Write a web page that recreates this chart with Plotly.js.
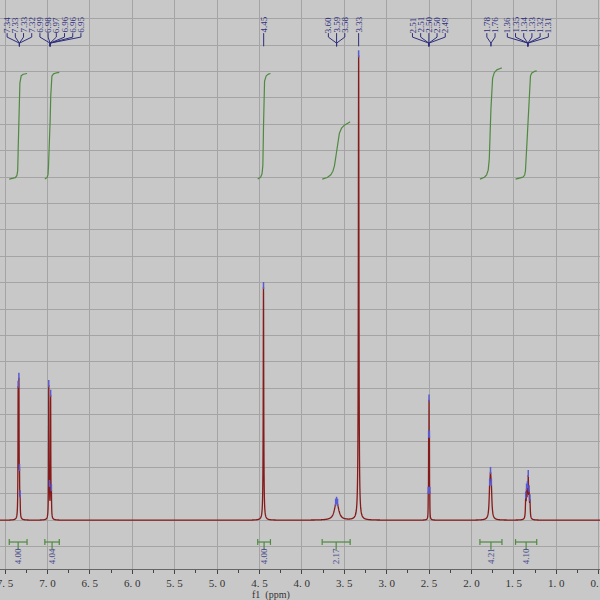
<!DOCTYPE html>
<html><head><meta charset="utf-8">
<script src="https://cdn.plot.ly/plotly-3.0.1.min.js"></script>
<style>html,body{margin:0;padding:0;background:#c8c8c8}#chart{width:600px;height:600px}</style>
</head><body><div id="chart"></div>
<script>
// ---- spectrum peak list ----
const peakShift  = [7.345, 7.336, 7.329, 7.322, 6.984, 6.975, 6.962, 6.953, 4.452, 3.601, 3.590, 3.579, 3.330, 2.509, 2.5045, 2.500, 2.4955, 2.491, 1.785, 1.775, 1.765, 1.360, 1.350, 1.340, 1.330, 1.320, 1.310];
const peakHeight = [4.7, 4.9, 1.2, 0.6, 5.0, 0.8, 4.6, 0.8, 8.83, 0.25, 0.28, 0.24, 17.6, 0.66, 2.65, 4.0, 2.65, 0.66, 0.8, 1.2, 0.8, 0.7, 0.9, 0.9, 1.4, 0.8, 0.6];
const peakWidth  = [0.0025, 0.0025, 0.0025, 0.0025, 0.0025, 0.0025, 0.0025, 0.0025, 0.0035, 0.025, 0.025, 0.025, 0.004, 0.0015, 0.0015, 0.0015, 0.0015, 0.0015, 0.008, 0.008, 0.008, 0.004, 0.004, 0.004, 0.004, 0.004, 0.004];

// ---- picked peak labels (groups) ----
const labelGroups = [
  [7.34, 7.33, 7.33, 7.32],
  [6.99, 6.98, 6.97, 6.96, 6.96, 6.95],
  [4.45],
  [3.60, 3.59, 3.58],
  [3.33],
  [2.51, 2.51, 2.50, 2.50, 2.49],
  [1.78, 1.76],
  [1.36, 1.35, 1.34, 1.33, 1.32, 1.31]
];

// ---- integrals ----
const intFrom  = [7.45, 7.03, 4.52, 3.76, 1.90, 1.48];
const intTo    = [7.24, 6.86, 4.37, 3.43, 1.64, 1.23];
const intValue = [4.00, 4.04, 4.00, 2.17, 4.21, 4.10];

// ---- axis ticks ----
const tickVals = [7.5, 7.0, 6.5, 6.0, 5.5, 5.0, 4.5, 4.0, 3.5, 3.0, 2.5, 2.0, 1.5, 1.0, 0.5];
const tickText = ['7. 5','7. 0','6. 5','6. 0','5. 5','5. 0','4. 5','4. 0','3. 5','3. 0','2. 5','2. 0','1. 5','1. 0','0. 5'];
const minorVals = [7.25, 6.75, 6.25, 5.75, 5.25, 4.75, 4.25, 3.75, 3.25, 2.75, 2.25, 1.75, 1.25, 0.75];

// ---- layout constants ----
const X0 = 7.559, X1 = 0.484;
const PXPPM = 600 / (X0 - X1);
const serif = '"Liberation Serif","DejaVu Serif",serif';
const navy = '#2e2e7e';
const green = '#4f8a40';

function spec(x) {
  let y = 0;
  for (let i = 0; i < peakShift.length; i++) {
    const d = (x - peakShift[i]) / peakWidth[i];
    y += peakHeight[i] / (1 + d * d);
  }
  return y;
}

const step = 0.0005;
const N = Math.floor((X0 - X1) / step);
const xs = [], ys = [];
for (let k = 0; k <= N; k++) { const x = X0 - k * step; xs.push(x); ys.push(spec(x)); }

const traces = [];
traces.push({x: xs, y: ys, type: 'scatter', mode: 'lines', line: {color: '#841a1a', width: 1.3, simplify: false}, hoverinfo: 'skip'});

// integral curves
const intBase = 12.92;
for (let r = 0; r < intFrom.length; r++) {
  const ix = [], iy = [];
  let s = 0;
  const cum = [];
  for (let k = 0; k <= N; k++) {
    if (xs[k] <= intFrom[r] && xs[k] >= intTo[r]) { s += ys[k] * step; ix.push(xs[k]); cum.push(s); }
  }
  for (let j = 0; j < cum.length; j++) iy.push(intBase + cum[j] / s * intValue[r]);
  traces.push({x: ix, y: iy, type: 'scatter', mode: 'lines', line: {color: green, width: 1.2}, hoverinfo: 'skip'});
}

// integral bars at bottom
const barY = -0.826, capH = 0.11, tickEnd = -1.12;
const bx = [], by = [];
for (let r = 0; r < intFrom.length; r++) {
  const mid = (intFrom[r] + intTo[r]) / 2;
  bx.push(intFrom[r], intTo[r], null, intFrom[r], intFrom[r], null, intTo[r], intTo[r], null, mid, mid, null);
  by.push(barY, barY, null, barY - capH, barY + capH, null, barY - capH, barY + capH, null, barY, tickEnd, null);
}
traces.push({x: bx, y: by, type: 'scatter', mode: 'lines', line: {color: green, width: 1.2}, hoverinfo: 'skip'});

// peak label layout
const spacing = 8.2 / PXPPM;
const leftLimit = X0 - 4 / PXPPM;
const annotations = [];
const lx = [], ly = [];
let prev = Infinity;
const yText = 18.76, yA = 18.45, yB = 18.3, yC = 18.07, yD = 17.95;
labelGroups.forEach(g => {
  const center = g.reduce((a, b) => a + b, 0) / g.length;
  let start = center + (g.length - 1) / 2 * spacing;
  if (start > leftLimit) start = leftLimit;
  if (start > prev - spacing) start = prev - spacing;
  g.forEach((v, j) => {
    const pos = start - j * spacing;
    prev = pos;
    annotations.push({x: pos, y: yText, xref: 'x', yref: 'y', text: v.toFixed(2), showarrow: false, textangle: -90,
      font: {family: serif, size: 9, color: navy}, xanchor: 'center', yanchor: 'middle'});
    if (g.length === 1) { lx.push(pos, pos, null); ly.push(yA, yD, null); }
    else { lx.push(pos, pos, center, center, null); ly.push(yA, yB, yC, yD, null); }
  });
});
traces.push({x: lx, y: ly, type: 'scatter', mode: 'lines', line: {color: navy, width: 1}, hoverinfo: 'skip'});

// peak top markers
traces.push({x: peakShift, y: peakShift.map(p => spec(p) + 0.06), type: 'scatter', mode: 'markers',
  marker: {symbol: 'line-ns-open', size: 5, color: '#5a5ad2', line: {color: '#5a5ad2', width: 1.5}}, hoverinfo: 'skip'});

// integral values
for (let r = 0; r < intFrom.length; r++) {
  annotations.push({x: (intFrom[r] + intTo[r]) / 2, y: -1.36, xref: 'x', yref: 'y', text: intValue[r].toFixed(2), showarrow: false,
    textangle: -90, font: {family: serif, size: 9, color: '#4a4a8e'}, xanchor: 'center', yanchor: 'middle'});
}
annotations.push({x: 271 / 600, y: -(595 - 569) / 569, xref: 'paper', yref: 'paper', text: 'f1  (ppm)', showarrow: false,
  font: {family: serif, size: 10, color: '#333'}, xanchor: 'center', yanchor: 'middle'});

const layout = {
  width: 600, height: 600,
  margin: {l: 0, r: 0, t: 0, b: 31, pad: 0},
  paper_bgcolor: '#c8c8c8', plot_bgcolor: '#c8c8c8', showlegend: false,
  xaxis: {range: [X0, X1], tickmode: 'array', tickvals: tickVals, ticktext: tickText, ticks: 'outside', ticklen: 4,
    tickcolor: '#444', showgrid: true, gridcolor: '#a4a4a4', gridwidth: 1, zeroline: false, showline: true, linecolor: '#666',
    ticklabeloverflow: 'allow', ticklabelstandoff: 0,
    tickfont: {family: serif, size: 11, color: '#333'},
    minor: {tickmode: 'array', tickvals: minorVals, ticks: 'outside', ticklen: 3, tickcolor: '#444', showgrid: false}},
  yaxis: {range: [-(569 - 520.2) / 26.4, 520.2 / 26.4], tickmode: 'linear', tick0: 0, dtick: 1, showticklabels: false, ticks: '',
    showgrid: true, gridcolor: '#a4a4a4', gridwidth: 1, zeroline: false},
  annotations: annotations
};
Plotly.newPlot('chart', traces, layout, {staticPlot: true});
</script></body></html>
